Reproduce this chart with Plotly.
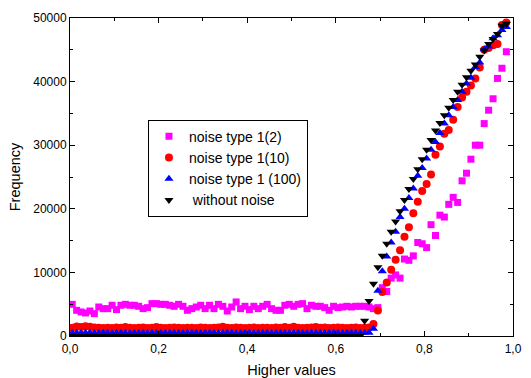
import plotly.graph_objects as go

x_values = [0.005, 0.015, 0.025, 0.035, 0.045, 0.055, 0.065, 0.075, 0.085, 0.095,
            0.105, 0.115, 0.125, 0.135, 0.145, 0.155, 0.165, 0.175, 0.185, 0.195,
            0.205, 0.215, 0.225, 0.235, 0.245, 0.255, 0.265, 0.275, 0.285, 0.295,
            0.305, 0.315, 0.325, 0.335, 0.345, 0.355, 0.365, 0.375, 0.385, 0.395,
            0.405, 0.415, 0.425, 0.435, 0.445, 0.455, 0.465, 0.475, 0.485, 0.495,
            0.505, 0.515, 0.525, 0.535, 0.545, 0.555, 0.565, 0.575, 0.585, 0.595,
            0.605, 0.615, 0.625, 0.635, 0.645, 0.655, 0.665, 0.675, 0.685, 0.695,
            0.705, 0.715, 0.725, 0.735, 0.745, 0.755, 0.765, 0.775, 0.785, 0.795,
            0.805, 0.815, 0.825, 0.835, 0.845, 0.855, 0.865, 0.875, 0.885, 0.895,
            0.905, 0.915, 0.925, 0.935, 0.945, 0.955, 0.965, 0.975, 0.985]

noise_2 = [4980, 4040, 3780, 3620, 3930, 3520, 4560, 4300, 4300, 4830,
           4150, 4830, 4980, 4830, 4830, 4670, 4300, 4460, 5090, 5090,
           4980, 4980, 4830, 4670, 4980, 4670, 4040, 4300, 4560, 4830,
           4300, 4830, 4300, 4980, 4670, 3930, 4560, 5350, 4300, 4670,
           4150, 4670, 4300, 4670, 4980, 4300, 4040, 4040, 4830, 4980,
           4670, 4980, 5090, 4300, 4830, 4670, 4670, 4460, 4040, 4670,
           4460, 4560, 4670, 4560, 4670, 4670, 4670, 4560, 4300, 4460,
           7600, 7000, 9100, 9600, 9100, 12100, 11900, 12600, 14700, 14500,
           13900, 17500, 15800, 19000, 18700, 20700, 21800, 21000, 24400, 25600,
           27800, 30000, 30000, 33400, 35500, 37300, 40500, 42100, 44700]

noise_10 = [1300, 1500, 1400, 1550, 1450, 1350, 1300, 1250, 1300, 1250,
            1350, 1300, 1400, 1300, 1250, 1300, 1350, 1250, 1300, 1400,
            1300, 1250, 1300, 1350, 1300, 1250, 1300, 1300, 1250, 1350,
            1300, 1250, 1300, 1350, 1450, 1300, 1250, 1350, 1300, 1250,
            1300, 1350, 1250, 1300, 1300, 1250, 1350, 1300, 1400, 1300,
            1450, 1300, 1250, 1300, 1350, 1400, 1300, 1350, 1250, 1300,
            1350, 1300, 1250, 1300, 1350, 1250, 1300, 1350, 1900, 4000,
            6900, 8400, 10400, 12000, 13500, 15600, 17100, 19300, 21100, 22800,
            23900, 25400, 28500, 29800, 31800, 32400, 34000, 36000, 37500, 38400,
            39400, 40500, 42200, 45000, 45300, 45700, 45900, 48900, 49300]

noise_100 = [500, 520, 480, 500, 510, 490, 500, 520, 500, 480,
             500, 510, 500, 490, 500, 520, 500, 480, 500, 510,
             500, 490, 500, 520, 500, 480, 500, 510, 500, 490,
             500, 520, 500, 480, 500, 510, 500, 490, 500, 520,
             500, 480, 500, 510, 500, 490, 500, 520, 500, 480,
             500, 510, 500, 490, 500, 520, 500, 480, 500, 510,
             500, 490, 500, 520, 500, 480, 500, 500, 1150, 7100,
             10200, 12500, 14700, 16400, 18700, 20000, 21700, 23200, 25200, 26400,
             27900, 29300, 30500, 31900, 33400, 34700, 36000, 37100, 38400, 39700,
             40600, 42300, 43000, 45100, 45500, 46800, 47300, 48100, 48600]

no_noise = [0, 0, 0, 0, 0, 0, 0, 0, 0, 0,
            0, 0, 0, 0, 0, 0, 0, 0, 0, 0,
            0, 0, 0, 0, 0, 0, 0, 0, 0, 0,
            0, 0, 0, 0, 0, 0, 0, 0, 0, 0,
            0, 0, 0, 0, 0, 0, 0, 0, 0, 0,
            0, 0, 0, 0, 0, 0, 0, 0, 0, 0,
            0, 0, 0, 0, 0, 0, 2400, 5500, 8200, 10800,
            12600, 14500, 16400, 18000, 19600, 21400, 23100, 24700, 26200, 27800,
            29300, 30800, 32300, 33500, 34700, 35900, 37100, 38400, 39500, 40700,
            41700, 42700, 43900, 44900, 45900, 46700, 47500, 48800, 49100]

series_names = ["noise type 1(2)", "noise type 1(10)", "noise type 1 (100)", "\u00a0without noise"]

x_tick_vals = [0.0, 0.2, 0.4, 0.6, 0.8, 1.0]
x_tick_text = ["0,0", "0,2", "0,4", "0,6", "0,8", "1,0"]
y_tick_vals = [0, 10000, 20000, 30000, 40000, 50000]
y_tick_text = ["0", "10000", "20000", "30000", "40000", "50000"]

fig = go.Figure()
fig.add_trace(go.Scatter(x=x_values, y=noise_2, mode="markers", name=series_names[0],
                         marker=dict(symbol="square", size=7, color="#FF00FF")))
fig.add_trace(go.Scatter(x=x_values, y=noise_10, mode="markers", name=series_names[1],
                         marker=dict(symbol="circle", size=8, color="#FF0000")))
fig.add_trace(go.Scatter(x=x_values, y=noise_100, mode="markers", name=series_names[2],
                         marker=dict(symbol="triangle-up", size=8, color="#0000FF")))
fig.add_trace(go.Scatter(x=x_values, y=no_noise, mode="markers", name=series_names[3],
                         marker=dict(symbol="triangle-down", size=8, color="#000000")))

font_family = "Liberation Sans, Arial, sans-serif"
fig.update_layout(
    width=531, height=378,
    margin=dict(l=70, r=18, t=18, b=42),
    paper_bgcolor="white", plot_bgcolor="white",
    font=dict(family=font_family, size=12, color="black"),
    showlegend=True,
    legend=dict(x=0.176, y=0.68, xanchor="left", yanchor="top",
                bordercolor="black", borderwidth=1, bgcolor="white",
                font=dict(size=14, family=font_family), tracegroupgap=0),
    xaxis=dict(range=[0, 1], tickvals=x_tick_vals, ticktext=x_tick_text,
               automargin=False, ticklabelstandoff=2,
               showgrid=False, zeroline=False, showline=True, linecolor="black",
               linewidth=1, mirror="ticks", ticks="inside", ticklen=5, tickcolor="black",
               minor=dict(ticks="inside", dtick=0.1, ticklen=3, tickcolor="black"),
               title=dict(text="Higher values", font=dict(size=14.5), standoff=14),
               tickfont=dict(size=12)),
    yaxis=dict(range=[0, 50000], tickvals=y_tick_vals, ticktext=y_tick_text,
               automargin=False,
               showgrid=False, zeroline=False, showline=True, linecolor="black",
               linewidth=1, mirror="ticks", ticks="inside", ticklen=5, tickcolor="black",
               minor=dict(ticks="inside", dtick=5000, ticklen=3, tickcolor="black"),
               title=dict(text="Frequency", font=dict(size=14.5), standoff=9),
               tickfont=dict(size=12)),
)

fig.write_html("out.html", config={"displayModeBar": False},
               post_script="document.body.style.margin='0px';document.body.style.overflow='hidden';")
